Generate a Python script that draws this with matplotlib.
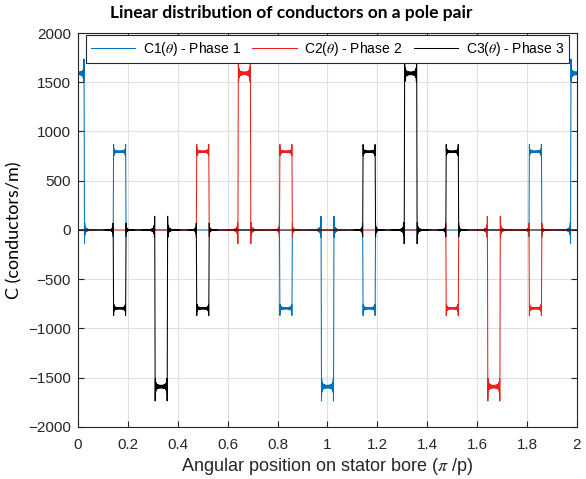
import numpy as np
import matplotlib
matplotlib.use("Agg")
import matplotlib.pyplot as plt

# ---- data ----
slot_pos = [0.0, 0.1667, 0.3333, 0.5, 0.6667, 0.8333, 1.0, 1.1667, 1.3333, 1.5, 1.6667, 1.8333]
slot_width = 0.05
phase1 = [1590, 795, 0, 0, 0, -795, -1590, -795, 0, 0, 0, 795]
phase2 = [0, 0, 0, 795, 1590, 795, 0, 0, 0, -795, -1590, -795]
phase3 = [0, -795, -1590, -795, 0, 0, 0, 795, 1590, 795, 0, 0]
labels = [r"C1($\theta$) - Phase 1", r"C2($\theta$) - Phase 2", r"C3($\theta$) - Phase 3"]
colors = ["#0072BD", "#E8231E", "#000000"]
n_harm = 1000
xticks = [0, 0.2, 0.4, 0.6, 0.8, 1, 1.2, 1.4, 1.6, 1.8, 2]
xticklabels = ["0", "0.2", "0.4", "0.6", "0.8", "1", "1.2", "1.4", "1.6", "1.8", "2"]
yticks = [-2000, -1500, -1000, -500, 0, 500, 1000, 1500, 2000]

x = np.linspace(0, 2, 20001)
n = np.arange(1, n_harm + 1)


def fourier(amps):
    """Truncated Fourier series of the slot step distribution."""
    c = np.asarray(slot_pos)
    a = np.asarray(amps, float)
    s = np.sin(np.outer(n, np.pi * slot_width / 2)) * 2 / (n[:, None] * np.pi)
    A = (s * np.cos(np.outer(n, np.pi * c)) * a).sum(axis=1)
    B = (s * np.sin(np.outer(n, np.pi * c)) * a).sum(axis=1)
    a0 = (a * slot_width).sum() / 2
    out = np.full_like(x, a0)
    for i in range(0, len(x), 2000):
        xs = x[i:i + 2000]
        arg = np.outer(xs, n * np.pi)
        out[i:i + 2000] += np.cos(arg) @ A + np.sin(arg) @ B
    return out


plt.rcParams["font.family"] = ["Liberation Sans", "DejaVu Sans"]
plt.rcParams["mathtext.fontset"] = "stix"
fig = plt.figure(figsize=(5.86, 4.79), dpi=100)
ax = fig.add_axes([0.1331, 0.1086, 0.8515, 0.8225])

for amps, lab, col in zip([phase1, phase2, phase3], labels, colors):
    ax.plot(x, fourier(amps), color=col, lw=0.75, label=lab)

ax.set_xlim(0, 2)
ax.set_ylim(-2000, 2000)
ax.set_xticks(xticks)
ax.set_xticklabels(xticklabels)
ax.set_yticks(yticks)
ax.grid(True, color="#e0e0e0", lw=0.8)
ax.set_axisbelow(True)
ax.tick_params(direction="in", top=True, right=True, labelsize=11, colors="#262626", length=4, width=0.8)
ax.tick_params(axis="x", pad=8)
ax.tick_params(axis="y", pad=5)
for sp in ax.spines.values():
    sp.set_color("#262626")
    sp.set_linewidth(0.8)

ax.set_xlabel(r"Angular position on stator bore ($\pi$ /p)", fontsize=13, color="#262626", labelpad=3)
ax.set_ylabel("C (conductors/m)", fontsize=13, family=["Lato", "DejaVu Sans"], labelpad=4)
fig.text(291 / 586, 1 - 13 / 479, "Linear distribution of conductors on a pole pair", fontsize=12.5,
         fontweight="bold", family=["Lato", "DejaVu Sans"], ha="center", va="center")

leg = ax.legend(loc="upper center", ncol=3, fontsize=10, frameon=True, fancybox=False,
                edgecolor="#262626", handlelength=3.2, columnspacing=0.8, borderaxespad=0.15,
                borderpad=0.35, handletextpad=0.55, framealpha=1)
leg.get_frame().set_linewidth(0.8)

fig.savefig("out.png", dpi=100)
